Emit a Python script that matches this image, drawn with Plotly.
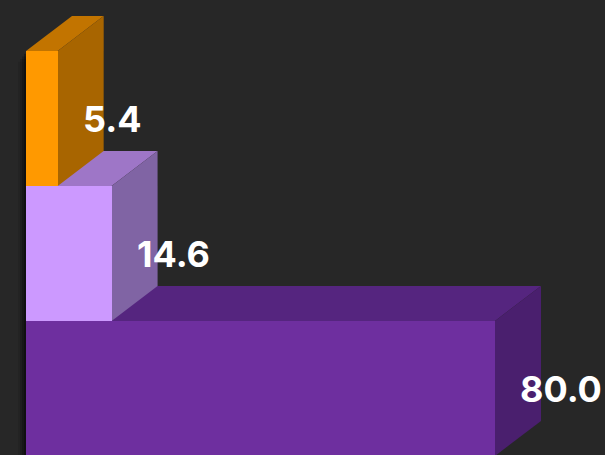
import plotly.graph_objects as go

# Data
categories = ["A", "B", "C"]          # bottom -> top
values = [80.0, 14.6, 5.4]
labels = ["80.0", "14.6", "5.4"]
front_colors = ["#6E2F9F", "#CC99FF", "#FF9900"]
top_colors = ["#55257F", "#9E76C7", "#C27400"]
side_colors = ["#4A1F6E", "#8064A4", "#A86500"]

W, H = 605, 455
px_per_unit = 5.8625
x0_px = 26
xr = [-x0_px / px_per_unit, (W - x0_px) / px_per_unit]
band_px = 135
yr = [(388.5 - H) / band_px, 388.5 / band_px]

dx = 46 / px_per_unit
dy = 35 / band_px
ypos = list(range(len(values)))

fig = go.Figure()
fig.add_trace(go.Bar(
    x=values, y=ypos, orientation="h", width=1.0,
    marker=dict(color=front_colors, line=dict(width=0)),
    hoverinfo="skip", showlegend=False,
))

shapes = []
# soft shadow left of the bars
top_edge = ypos[-1] + 0.5
for k, a in enumerate([0.08, 0.14, 0.22, 0.30]):
    shapes.append(dict(type="rect", xref="x", yref="y",
                       x0=-(8 - 2 * k) / px_per_unit, x1=0, y0=yr[0] - 1, y1=top_edge - 0.02 * (4 - k),
                       fillcolor=f"rgba(0,0,0,{a})", line=dict(width=0), layer="below"))
for i, v in enumerate(values):
    b, t = ypos[i] - 0.5, ypos[i] + 0.5
    top_path = f"M 0 {t} L {v} {t} L {v+dx} {t+dy} L {dx} {t+dy} Z"
    side_path = f"M {v} {b} L {v} {t} L {v+dx} {t+dy} L {v+dx} {b+dy} Z"
    shapes.append(dict(type="path", path=top_path, xref="x", yref="y",
                       fillcolor=top_colors[i], line=dict(width=0), layer="below"))
    shapes.append(dict(type="path", path=side_path, xref="x", yref="y",
                       fillcolor=side_colors[i], line=dict(width=0), layer="below"))

annotations = []
for i, v in enumerate(values):
    annotations.append(dict(x=v, y=ypos[i], xref="x", yref="y", text=labels[i],
                            showarrow=False, xanchor="left", yanchor="middle", xshift=23, yshift=0,
                            font=dict(family="Inter, Arial, sans-serif", size=36, color="white",
                                      weight="bold")))

fig.update_layout(
    width=W, height=H, margin=dict(l=0, r=0, t=0, b=0),
    paper_bgcolor="#272727", plot_bgcolor="#272727",
    xaxis=dict(range=xr, visible=False, fixedrange=True),
    yaxis=dict(range=yr, visible=False, fixedrange=True),
    shapes=shapes, annotations=annotations, bargap=0,
)
fig.write_html("out.html", config={"displayModeBar": False},
               post_script="document.body.style.margin='0';document.body.style.background='#272727';")
